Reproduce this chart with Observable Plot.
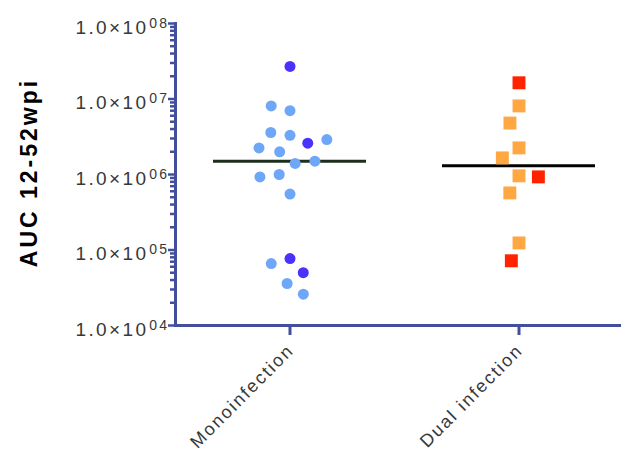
<!DOCTYPE html>
<html><head><meta charset="utf-8">
<script src="https://cdn.jsdelivr.net/npm/d3@7"></script>
<script src="https://cdn.jsdelivr.net/npm/@observablehq/plot@0.6"></script>
<style>
html,body{margin:0;padding:0;background:#fff;overflow:hidden}
#chart svg{display:block;font-family:"Liberation Sans",Arial,sans-serif}
#chart g[aria-label="fx-axis tick label"] text{letter-spacing:2px}
#chart g.ylab text{letter-spacing:2.4px}
#chart g.ytitle text{letter-spacing:3px}
</style></head><body><div id="chart"></div>
<script>
const groups = ["Monoinfection", "Dual infection"];
const monoAUC = [2.7e7, 7.0e6, 8.1e6, 3.3e6, 3.6e6, 2.6e6, 2.9e6, 2.0e6, 2.25e6, 1.4e6, 1.5e6, 1.0e6, 9.3e5, 5.5e5, 7.7e4, 6.6e4, 5.0e4, 3.6e4, 2.6e4];
const monoShade = ["dark","light","light","light","light","dark","light","light","light","light","light","light","light","light","dark","light","dark","light","light"];
const dualAUC = [1.64e7, 8.1e6, 4.8e6, 2.25e6, 1.66e6, 9.6e5, 9.3e5, 5.7e5, 1.24e5, 7.2e4];
const dualShade = ["dark","light","light","light","light","light","dark","light","light","dark"];
const yMajorTicks = [1e4, 1e5, 1e6, 1e7, 1e8];
const yTitle = "AUC 12-52wpi";

const rows = (group, vals, shades) => vals.map((v, i) => ({group, value: v, key: group + "|" + shades[i]}));
const mono = rows(groups[0], monoAUC, monoShade);
const dual = rows(groups[1], dualAUC, dualShade);
const medians = [
  {group: groups[0], value: d3.median(monoAUC)},
  {group: groups[1], value: d3.median(dualAUC)}
];
const yMinorTicks = d3.range(4, 8).flatMap(k => d3.range(2, 10).map(m => m * 10 ** k));
const expOf = v => Math.round(Math.log10(v));
const mantissa = v => (v / 10 ** expOf(v)).toFixed(1) + "×10";
const exponent = v => String(expOf(v)).padStart(2, "0");
const firstFacet = () => groups[0];

const axisColor = "#434f9c";
const labelColor = "#383838";
const chart = Plot.plot({
  width: 621, height: 456,
  marginLeft: 175, marginRight: -12, marginTop: 23, marginBottom: 131,
  fx: {domain: groups, paddingInner: 0, paddingOuter: 0, label: null},
  y: {type: "log", domain: [1e4, 1e8], label: null},
  color: {
    domain: ["Monoinfection|light", "Monoinfection|dark", "Dual infection|light", "Dual infection|dark"],
    range: ["#6fa7f8", "#4a32fb", "#ffa843", "#ff2300"]
  },
  marks: [
    Plot.axisY({ticks: yMinorTicks, tickSize: 5, fill: "none", stroke: axisColor, strokeWidth: 2.5, label: null}),
    Plot.axisY({ticks: yMajorTicks, tickSize: 7, fill: "none", stroke: axisColor, strokeWidth: 2.5, label: null}),
    Plot.text(yMajorTicks, {fx: firstFacet, y: d => d, text: mantissa, frameAnchor: "left", textAnchor: "end", lineAnchor: "bottom", dx: -27, dy: 10, fontSize: 19, fill: labelColor, className: "ylab"}),
    Plot.text(yMajorTicks, {fx: firstFacet, y: d => d, text: exponent, frameAnchor: "left", textAnchor: "end", lineAnchor: "bottom", dx: -6, dy: 4, fontSize: 14, fill: labelColor, className: "ylab"}),
    Plot.axisFx({anchor: "bottom", tickSize: 10, fill: "none", stroke: axisColor, strokeWidth: 3, label: null}),
    Plot.axisFx({anchor: "bottom", tickSize: 0, tickPadding: 12, tickRotate: -45, stroke: "none", fontSize: 18, fill: labelColor, dy: 10, dx: 1, label: null}),
    Plot.frame({anchor: "left", facet: "super", stroke: axisColor, strokeWidth: 3}),
    Plot.frame({anchor: "bottom", facet: "super", stroke: axisColor, strokeWidth: 3}),
    Plot.tickY(medians, {fx: "group", y: "value", stroke: d => d.group === groups[0] ? "#1d2e1d" : "#000", strokeWidth: 3, insetLeft: 38, insetRight: 38}),
    Plot.dot(mono, {...Plot.dodgeX("middle", {fx: "group", y: "value", r: 9.2, fill: "key", padding: 0}), r: 5.5}),
    Plot.dot(dual, {...Plot.dodgeX("middle", {fx: "group", y: "value", r: 9.2, symbol: "square", fill: "key", padding: 0}), r: 7.3}),
    Plot.text([yTitle], {facet: "super", frameAnchor: "left", textAnchor: "middle", rotate: -90, dx: -146, dy: -2, fontSize: 23, fontWeight: "bold", fill: "#000", lineAnchor: "middle", className: "ytitle"})
  ]
});
document.getElementById("chart").appendChild(chart);
</script></body></html>
